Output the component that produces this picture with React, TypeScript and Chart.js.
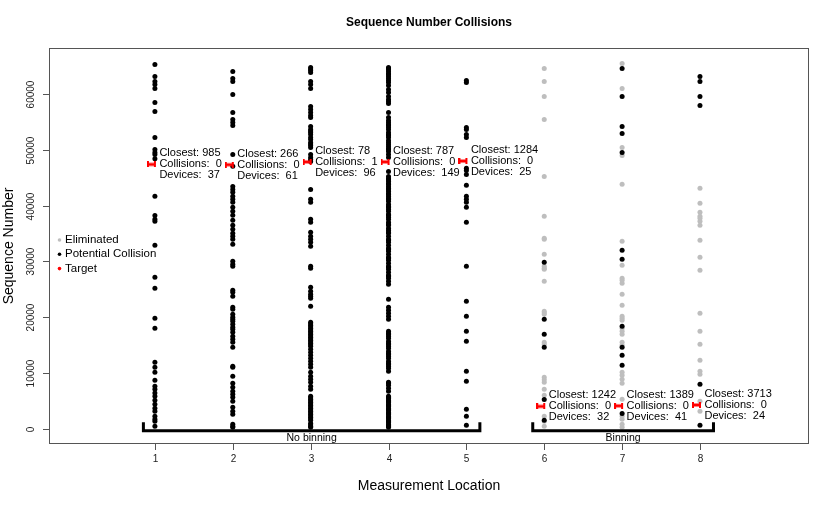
import React, { useEffect, useRef } from 'react';
import { Chart, registerables } from 'chart.js';
Chart.register(...registerables);

const locations = [1, 2, 3, 4, 5, 6, 7, 8];
const closest = [985, 266, 78, 787, 1284, 1242, 1389, 3713];
const collisions = [0, 0, 1, 0, 0, 0, 0, 0];
const devices = [37, 61, 96, 149, 25, 32, 41, 24];
const targets = [47355, 47300, 47800, 47800, 47950, 4100, 4200, 4350];
const yTicks = [0, 10000, 20000, 30000, 40000, 50000, 60000];
const xTicks = [1, 2, 3, 4, 5, 6, 7, 8];
const groups = [
  { label: 'No binning', from: 1, to: 5 },
  { label: 'Binning', from: 6, to: 8 },
];

const potential1 = [65225, 63081, 62187, 61651, 60936, 58434, 56826, 52180, 50035, 49499, 49142, 48340, 41637, 38241, 37527, 37169, 32880, 27162, 25196, 19835, 18048, 11973, 11079, 10186, 8756, 7684, 7148, 6500, 5897, 5182, 4468, 3753, 3217, 2323, 1787, 1430, 536];
const potential2 = [63975, 62724, 62188, 59865, 56648, 55397, 54861, 54325, 49143, 47034, 43424, 42888, 42352, 41637, 41101, 40565, 39671, 38957, 38242, 37348, 36455, 35740, 35025, 34489, 33953, 33060, 30022, 29486, 29128, 24839, 24482, 23767, 21801, 21444, 20551, 20014, 19657, 19300, 18764, 18227, 17870, 17334, 16619, 16083, 15547, 14653, 11258, 11079, 9471, 8220, 7505, 6791, 6255, 5718, 5004, 3931, 3217, 2681, 894, 536, 357];
const potential3 = [64689, 64421, 64153, 63796, 62188, 61652, 60937, 57720, 57184, 56648, 56112, 55754, 54146, 53610, 53342, 53074, 52717, 52180, 51823, 51287, 51019, 50751, 50393, 49143, 48606, 48249, 47878, 42888, 41101, 40565, 37527, 36991, 35204, 34489, 33953, 33417, 32702, 29128, 28771, 25375, 24661, 24125, 23767, 23410, 21980, 19121, 18853, 18585, 18317, 18049, 17781, 17513, 17245, 16977, 16708, 16440, 16172, 15904, 15636, 15368, 15100, 14832, 14296, 13760, 13224, 12688, 12152, 11616, 11079, 10186, 9471, 8935, 8399, 7684, 7148, 5897, 5629, 5361, 5093, 4825, 4557, 4289, 4021, 3753, 3485, 3217, 2949, 2681, 2412, 2144, 1876, 1608, 1072, 804, 536, 357];
const potential4 = [64689, 64511, 64332, 63975, 63617, 63439, 63081, 62724, 62366, 62009, 61473, 60758, 60222, 59507, 58971, 58614, 58256, 56648, 55754, 55218, 54861, 54504, 54325, 53967, 53610, 53074, 52717, 52538, 52180, 51644, 51287, 50930, 50572, 50215, 50036, 49679, 49143, 48587, 46105, 45211, 44854, 44675, 44318, 43960, 43782, 43424, 43067, 42888, 42531, 42173, 41995, 41637, 41280, 41101, 40744, 40208, 39850, 39671, 39314, 38957, 38421, 38242, 37884, 37527, 36991, 36634, 36455, 35919, 35561, 35204, 35025, 34489, 33953, 33774, 33417, 32881, 32345, 32166, 31809, 31273, 30736, 30558, 30200, 29664, 29128, 28949, 28592, 28056, 27520, 27341, 26984, 26448, 25912, 23231, 21801, 21265, 20729, 20193, 19657, 17513, 17155, 16977, 16619, 16262, 15726, 15368, 15190, 14832, 14475, 13939, 13581, 13403, 13045, 12688, 12152, 11794, 11616, 11258, 10901, 10365, 8399, 8220, 7863, 7327, 6791, 5897, 5718, 5540, 5182, 5004, 4825, 4468, 4289, 4110, 3753, 3574, 3395, 3038, 2859, 2681, 2323, 2144, 1966, 1608, 1430, 1251, 894, 715, 536, 357];
const potential5 = [62366, 62009, 53967, 53610, 52717, 52180, 46666, 46283, 45569, 43603, 41637, 41101, 40565, 39671, 36991, 29128, 22874, 20193, 17513, 15726, 10365, 8578, 3574, 2323, 715];
const potential6 = [29843, 19657, 16977, 14653, 5342, 1608];
const potential7 = [64511, 59507, 54146, 52895, 49500, 31987, 30379, 18406, 14653, 13224, 11437, 2811];
const potential8 = [63081, 62188, 59507, 57899, 8063, 715];
const eliminated6 = [64511, 62188, 59507, 55397, 45211, 38063, 34132, 33953, 31273, 29128, 28771, 28592, 26448, 21087, 20819, 20551, 15547, 15190, 9292, 8846, 8399, 7148, 6076, 2323, 1430, 536];
const eliminated7 = [65404, 60937, 50393, 48964, 43782, 33596, 29307, 26984, 26626, 26090, 24125, 22159, 20193, 19836, 19478, 18049, 17513, 16977, 15547, 15011, 10186, 9650, 8935, 8220, 5361, 2323, 1787, 894, 357];
const eliminated8 = [43067, 40386, 38778, 38063, 37706, 37170, 36455, 33774, 30736, 28413, 20729, 17513, 15190, 12330, 10365, 9829, 5004, 3217];

const potentialByLoc = [potential1, potential2, potential3, potential4, potential5, potential6, potential7, potential8];
const eliminatedByLoc = [[], [], [], [], [], eliminated6, eliminated7, eliminated8];

const FONT = '"Liberation Sans", Arial, Helvetica, sans-serif';
const GRAY = '#bebebe';

function makeTargetMark(): HTMLCanvasElement {
  const c = document.createElement('canvas');
  c.width = 16;
  c.height = 6;
  const g = c.getContext('2d')!;
  g.fillStyle = '#ff0000';
  g.fillRect(0, 0, 2, 6);
  g.fillRect(7, 0, 2, 6);
  g.fillRect(0, 1.5, 9, 3);
  return c;
}

const decorPlugin = {
  id: 'rDecor',
  afterDraw(chart: any) {
    const { ctx, chartArea: a, scales } = chart;
    const xs = scales.x;
    const ys = scales.y;
    ctx.save();
    // box
    ctx.strokeStyle = '#555';
    ctx.lineWidth = 1;
    ctx.strokeRect(a.left + 0.5, a.top + 0.5, a.right - a.left - 1, a.bottom - a.top - 1);
    // y ticks
    ctx.fillStyle = '#222';
    ctx.font = `10px ${FONT}`;
    for (const v of yTicks) {
      const py = Math.round(ys.getPixelForValue(v)) + 0.5;
      ctx.beginPath();
      ctx.moveTo(a.left - 6, py);
      ctx.lineTo(a.left, py);
      ctx.stroke();
      ctx.save();
      ctx.translate(31, py);
      ctx.rotate(-Math.PI / 2);
      ctx.textAlign = 'center';
      ctx.textBaseline = 'middle';
      ctx.fillText(String(v), 0, 0);
      ctx.restore();
    }
    // x ticks
    for (const v of xTicks) {
      const px = Math.round(xs.getPixelForValue(v)) + 0.5;
      ctx.beginPath();
      ctx.moveTo(px, a.bottom);
      ctx.lineTo(px, a.bottom + 6);
      ctx.stroke();
      ctx.textAlign = 'center';
      ctx.textBaseline = 'middle';
      ctx.fillText(String(v), px, 459);
    }
    // titles
    ctx.fillStyle = '#000';
    ctx.textAlign = 'center';
    ctx.textBaseline = 'middle';
    ctx.font = `bold 12px ${FONT}`;
    ctx.fillText('Sequence Number Collisions', (a.left + a.right) / 2, 23);
    ctx.font = `14px ${FONT}`;
    ctx.fillText('Measurement Location', (a.left + a.right) / 2, 486);
    ctx.save();
    ctx.translate(9, (a.top + a.bottom) / 2);
    ctx.rotate(-Math.PI / 2);
    ctx.fillText('Sequence Number', 0, 0);
    ctx.restore();

    // annotations
    ctx.font = `11px ${FONT}`;
    ctx.textAlign = 'left';
    ctx.fillStyle = '#000';
    locations.forEach((loc, i) => {
      const px = xs.getPixelForValue(loc) + 4.5;
      const py = ys.getPixelForValue(targets[i]);
      ctx.fillText(`Closest: ${closest[i]}`, px, py - 11);
      ctx.fillText(`Collisions:  ${collisions[i]}`, px, py);
      ctx.fillText(`Devices:  ${devices[i]}`, px, py + 11);
    });

    // brackets
    const zero = ys.getPixelForValue(0);
    const lineY = zero + 1.5;
    ctx.strokeStyle = '#000';
    ctx.lineWidth = 3;
    ctx.lineCap = 'butt';
    ctx.lineJoin = 'miter';
    ctx.font = `10.5px ${FONT}`;
    ctx.textAlign = 'center';
    for (const g of groups) {
      const l = xs.getPixelForValue(g.from) - 11.5;
      const r = xs.getPixelForValue(g.to) + 13.5;
      ctx.beginPath();
      ctx.moveTo(l, lineY - 8.5);
      ctx.lineTo(l, lineY);
      ctx.lineTo(r, lineY);
      ctx.lineTo(r, lineY - 8.5);
      ctx.stroke();
      ctx.fillText(g.label, (l + r) / 2, lineY + 7.5);
    }

    // legend
    const legend = [
      { label: 'Eliminated', color: GRAY },
      { label: 'Potential Collision', color: '#000' },
      { label: 'Target', color: '#ff0000' },
    ];
    ctx.font = `11.5px ${FONT}`;
    ctx.textAlign = 'left';
    legend.forEach((item, i) => {
      const yy = 240 + i * 14.3;
      ctx.fillStyle = item.color;
      ctx.beginPath();
      ctx.arc(59.5, yy, 1.8, 0, Math.PI * 2);
      ctx.fill();
      ctx.fillStyle = '#000';
      ctx.fillText(item.label, 65, yy);
    });
    ctx.restore();
  },
};

export default function App() {
  const ref = useRef<HTMLCanvasElement>(null);
  useEffect(() => {
    if (!ref.current) return;
    const eliminatedData = eliminatedByLoc.flatMap((arr, i) => arr.map((v) => ({ x: locations[i], y: v })));
    const potentialData = potentialByLoc.flatMap((arr, i) => arr.map((v) => ({ x: locations[i], y: v })));
    const targetData = targets.map((v, i) => ({ x: locations[i], y: v }));
    const chart = new Chart(ref.current, {
      type: 'scatter',
      data: {
        datasets: [
          {
            label: 'Target',
            data: targetData,
            pointStyle: makeTargetMark() as any,
            pointRadius: 4,
            order: 1,
          },
          {
            label: 'Potential Collision',
            data: potentialData,
            backgroundColor: '#000',
            borderWidth: 0,
            pointRadius: 2.5,
            order: 2,
          },
          {
            label: 'Eliminated',
            data: eliminatedData,
            backgroundColor: GRAY,
            borderWidth: 0,
            pointRadius: 2.5,
            order: 3,
          },
        ],
      },
      options: {
        responsive: false,
        animation: false,
        events: [],
        layout: { padding: { left: 49, top: 48, right: 25, bottom: 62 } },
        scales: {
          x: { type: 'linear', min: -0.36, max: 9.4, display: false },
          y: { type: 'linear', min: -2621, max: 68156, display: false },
        },
        plugins: {
          legend: { display: false },
          title: { display: false },
          tooltip: { enabled: false },
        },
      },
      plugins: [decorPlugin],
    });
    return () => chart.destroy();
  }, []);
  return (
    <div style={{ position: 'absolute', left: 0, top: 0, width: 834, height: 506, background: '#fff' }}>
      <canvas ref={ref} width={834} height={506} style={{ display: 'block' }} />
    </div>
  );
}
